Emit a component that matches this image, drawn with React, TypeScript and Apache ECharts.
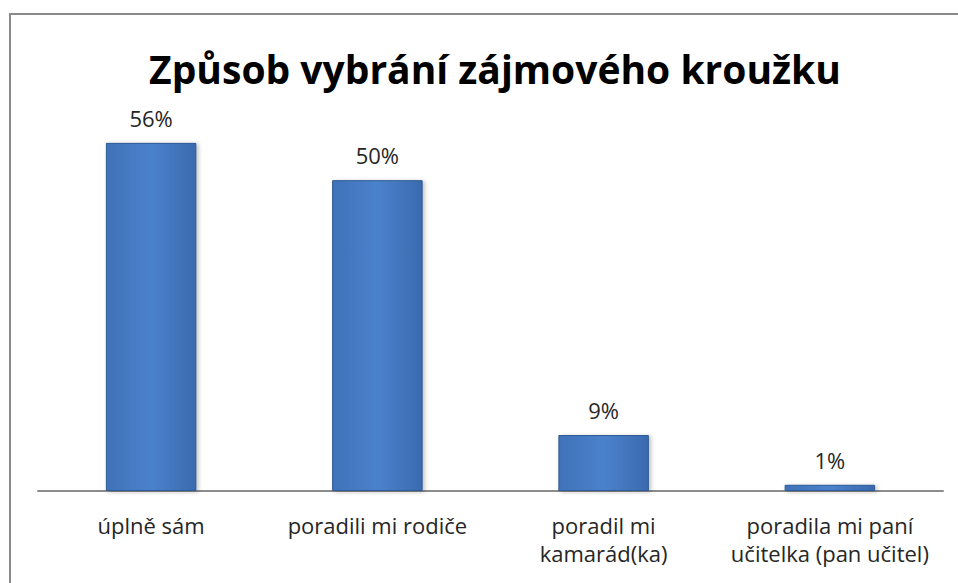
import React, { useEffect, useRef } from "react";
import * as echarts from "echarts";

const categories = [
  "úplně sám",
  "poradili mi rodiče",
  "poradil mi\nkamarád(ka)",
  "poradila mi paní\nučitelka (pan učitel)",
];
const values = [56, 50, 9, 1];
const titleText = "Způsob vybrání zájmového kroužku";

export default function App() {
  const ref = useRef<HTMLDivElement>(null);
  useEffect(() => {
    if (!ref.current) return;
    const chart = echarts.init(ref.current, null, { renderer: "svg" });
    const barColor = new echarts.graphic.LinearGradient(0, 0, 1, 0, [
      { offset: 0, color: "#3f72b8" },
      { offset: 0.5, color: "#4a82cc" },
      { offset: 1, color: "#3a6aae" },
    ]);
    chart.setOption({
      animation: false,
      backgroundColor: "#ffffff",
      title: {
        text: titleText,
        left: 490,
        textAlign: "center",
        top: 44,
        textStyle: {
          fontFamily: "'Open Sans', sans-serif",
          fontWeight: "bold",
          fontSize: 39,
          color: "#000",
        },
      },
      graphic: [
        {
          type: "polyline",
          shape: { points: [[10, 600], [10, 14], [970, 14]] },
          style: { stroke: "#8a8a8a", lineWidth: 2, fill: "none" },
          silent: true,
        },
      ],
      grid: { left: 38, right: 15, top: 118, bottom: 92, containLabel: false },
      xAxis: {
        type: "category",
        data: categories,
        axisLine: { lineStyle: { color: "#8c8c8c", width: 2 } },
        axisTick: { show: false },
        axisLabel: {
          color: "#262626",
          fontSize: 22,
          fontFamily: "'Open Sans', sans-serif",
          lineHeight: 28,
          margin: 20,
          interval: 0,
        },
      },
      yAxis: {
        type: "value",
        min: 0,
        max: 60,
        show: false,
        splitLine: { show: false },
      },
      series: [
        {
          type: "bar",
          data: values,
          barWidth: "40%",
          itemStyle: {
            color: barColor,
            borderColor: "#2d5a95",
            borderWidth: 1,
            shadowColor: "rgba(0,0,0,0.25)",
            shadowBlur: 4,
            shadowOffsetX: 2,
            shadowOffsetY: 1,
          },
          label: {
            show: true,
            position: "top",
            distance: 14,
            formatter: "{c}%",
            color: "#262626",
            fontSize: 22,
            fontFamily: "'Open Sans', sans-serif",
          },
        },
      ],
    });
    return () => chart.dispose();
  }, []);
  return <div ref={ref} style={{ width: 958, height: 583, position: "absolute", left: 0, top: 0 }} />;
}
